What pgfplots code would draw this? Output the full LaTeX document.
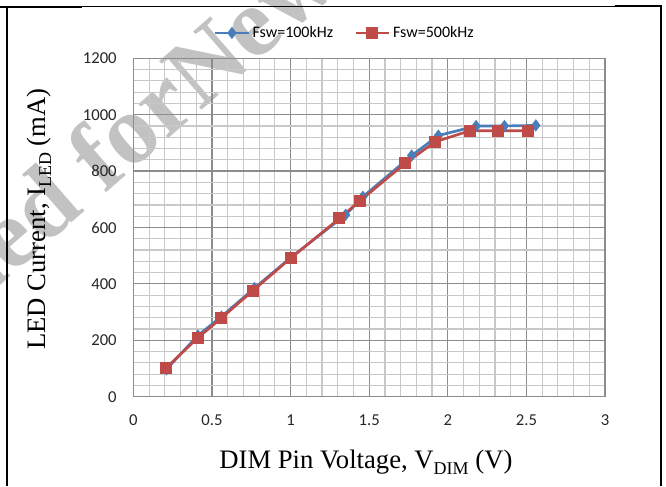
\documentclass[border=0pt]{standalone}
\usepackage{pgfplots}
\pgfplotsset{compat=1.18}
\usepackage{fontspec}
\setmainfont{Liberation Serif}
\newfontfamily\calibri{Carlito}
\definecolor{serblue}{HTML}{4A7EBB}
\definecolor{serred}{HTML}{BE4B48}
\definecolor{gmajor}{HTML}{8C8C8C}
\definecolor{gminor}{HTML}{C8C8C8}
\newcommand\sub[1]{\raisebox{-0.22em}{\fontsize{13.5}{13.5}\selectfont #1}}
\begin{document}
\begin{tikzpicture}
\useasboundingbox (0,0) rectangle (499.5pt,364.5pt);
\begin{scope}
\clip (0,0) rectangle (499.5pt,364.5pt);
\node[rotate=41, anchor=base east, inner sep=0pt, text=black!24, font=\bfseries\fontsize{74}{74}\selectfont] at (150pt,281pt) {Not Recommended for };
\node[rotate=41, anchor=base west, inner sep=0pt, text=black!24, font=\bfseries\fontsize{74}{74}\selectfont] at (150pt,281pt) {New Designs};
\end{scope}
\begin{axis}[
  scale only axis,
  at={(100.05pt,66.98pt)}, anchor=south west,
  width=353.7pt, height=253.8pt,
  xmin=0, xmax=3, ymin=0, ymax=1200,
  xtick={0,0.5,...,3}, ytick={0,200,...,1200},
  xticklabels={0,0.5,1,1.5,2,2.5,3},
  yticklabels={0,200,400,600,800,1000,1200},
  minor x tick num=4, minor y tick num=4,
  grid=both,
  major grid style={draw=gmajor, line width=0.9pt},
  minor grid style={draw=gminor, line width=0.9pt},
  axis line style={draw=gmajor, line width=0.9pt},
  major tick length=0pt, minor tick length=0pt,
  /pgf/number format/assume math mode=true,
  /pgf/number format/1000 sep={},
  ticklabel style={font=\calibri\fontsize{12.5}{12.5}\selectfont, text=black!85},
  xticklabel style={yshift=-10pt},
  yticklabel style={xshift=-9pt},
  xlabel={DIM Pin Voltage, V\sub{DIM} (V)},
  ylabel={LED Current, I\sub{LED} (mA)},
  xlabel style={at={(axis description cs:0.493,0)}, anchor=center, yshift=-49pt, font=\fontsize{20}{24}\selectfont},
  ylabel style={at={(axis description cs:0,0.525)}, anchor=center, yshift=70.8pt, font=\fontsize{20}{24}\selectfont},
  legend columns=2,
  legend style={at={(axis description cs:0.449,1.075)}, anchor=center, draw=none, fill=none,
    font=\calibri\fontsize{12}{12}\selectfont, /tikz/every even column/.append style={column sep=14pt}},
  legend image code/.code={\draw[mark repeat=2, mark phase=2] plot coordinates {(0pt,0pt) (12.5pt,0pt) (25pt,0pt)};},
]
\addplot[serblue, line width=2pt, mark=diamond*, mark size=3pt, mark options={solid}] coordinates {
(0.21,97) (0.41,217) (0.56,284) (0.77,385) (1.0,493) (1.35,645) (1.46,709) (1.77,855) (1.94,926) (2.18,960) (2.36,960) (2.56,962)};
\addlegendentry{Fsw=100kHz}
\addplot[serred, line width=2pt, mark=square*, mark size=3.5pt, mark options={solid}] coordinates {
(0.21,103) (0.41,209) (0.56,279) (0.76,376) (1.0,491) (1.31,632) (1.44,694) (1.73,828) (1.92,904) (2.14,943) (2.32,943) (2.51,943)};
\addlegendentry{Fsw=500kHz}
\end{axis}
\draw[line width=1.5pt] (0,359.6pt) -- (61.5pt,359.6pt);
\draw[line width=0.6pt] (61.5pt,359.6pt) -- (461pt,359.6pt);
\draw[line width=1.5pt] (461pt,359.8pt) -- (496.8pt,359.8pt);
\draw[line width=1.5pt] (4.9pt,360.3pt) -- (4.9pt,0);
\draw[line width=1.5pt] (496.1pt,360.3pt) -- (496.1pt,0);
\end{tikzpicture}
\end{document}
